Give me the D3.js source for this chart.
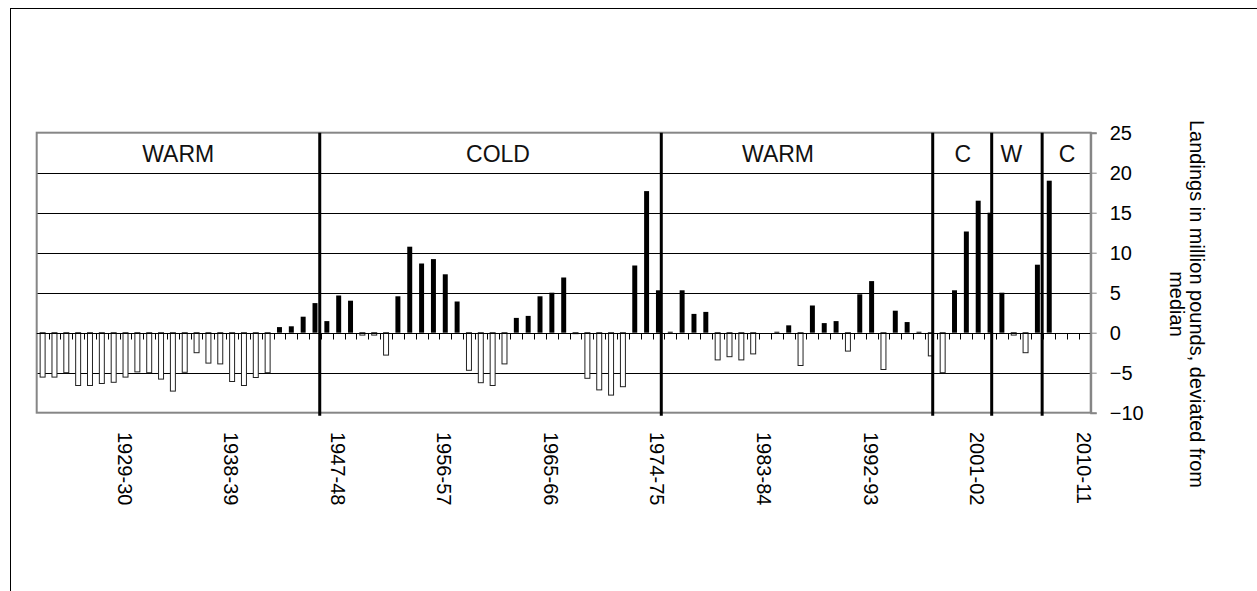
<!DOCTYPE html>
<html>
<head>
<meta charset="utf-8">
<script src="https://cdn.jsdelivr.net/npm/d3@7"></script>
<style>
  body { margin: 0; background: #fff; }
  svg { display: block; font-family: "Liberation Sans", Arial, sans-serif; }
</style>
</head>
<body>
<svg id="chart" width="1257" height="591"></svg>
<script>
// seasons 1922-23 .. 2010-11
const seasons = d3.range(1922, 2011).map(yr => `${yr}-${String((yr + 1) % 100).padStart(2, '0')}`);

// landings, million pounds deviated from median
const deviations = [
  -5.55, -5.55, -5.0, -6.6, -6.6, -6.35, -6.2, -5.55, -4.9, -5.0,
  -5.8, -7.3, -4.95, -2.5, -3.8, -3.9, -6.1, -6.6, -5.6, -5.0,
  0.7, 0.8, 2.0, 3.7, 1.45, 4.65, 4.0, -0.3, -0.3, -2.8,
  4.55, 10.75, 8.65, 9.2, 7.3, 3.9, -4.7, -6.25, -6.6, -3.9,
  1.85, 2.1, 4.55, 5.0, 6.9, -0.12, -5.7, -7.15, -7.8, -6.75,
  8.4, 17.7, 5.3, 0.12, 5.3, 2.35, 2.6, -3.4, -3.0, -3.4,
  -2.65, 0, 0.12, 0.92, -4.1, 3.4, 1.2, 1.45, -2.3, 4.8,
  6.45, -4.6, 2.75, 1.33, 0.12, -2.9, -5.0, 5.3, 12.65, 16.5,
  15.0, 5.0, -0.3, -2.5, 8.5, 19.0, 0, 0, 0
];

const tickLabels = ['1929-30', '1938-39', '1947-48', '1956-57', '1965-66', '1974-75', '1983-84', '1992-93', '2001-02', '2010-11'];
const yTicks = [-10, -5, 0, 5, 10, 15, 20, 25];

// regimes, positions counted in seasons from the left edge
const regimeNames = ['WARM', 'COLD', 'WARM', 'C', 'W', 'C'];
const regimeBreaks = [23.9, 52.74, 75.66, 80.64, 84.9];
const regimeLabelAt = [11.95, 38.95, 62.6, 78.2, 82.3, 87.0];

const yTitle = ['Landings in million pounds, deviated from', 'median'];

const svg = d3.select('#chart');
const plotL = 36.7, plotR = 1090.7, plotT = 132.7, plotB = 412.7;

const x = d3.scaleBand().domain(seasons).range([plotL, plotR]).padding(0);
const pos = d3.scaleLinear().domain([0, seasons.length]).range([plotL, plotR]);
const y = d3.scaleLinear().domain([-10, 25]).range([plotB, plotT]);
const barW = x.bandwidth() * 0.42;

// chart area frame
svg.append('rect')
  .attr('x', 10.5).attr('y', 8.5).attr('width', 1400).attr('height', 800)
  .attr('fill', 'none').attr('stroke', '#000').attr('stroke-width', 1);

// gridlines
svg.append('g')
  .selectAll('line')
  .data(yTicks.filter(t => t !== 0 && t !== -10 && t !== 25))
  .join('line')
  .attr('x1', plotL).attr('x2', plotR)
  .attr('y1', d => Math.round(y(d)) + 0.5).attr('y2', d => Math.round(y(d)) + 0.5)
  .attr('stroke', '#000').attr('stroke-width', 1);

// plot border
svg.append('rect')
  .attr('x', plotL).attr('y', plotT).attr('width', plotR - plotL).attr('height', plotB - plotT)
  .attr('fill', 'none').attr('stroke', '#868686').attr('stroke-width', 2);

// bars
svg.append('g')
  .selectAll('rect')
  .data(seasons.map((s, i) => ({ s, v: deviations[i] })).filter(d => d.v !== 0))
  .join('rect')
  .attr('x', d => x(d.s) + (x.bandwidth() - barW) / 2)
  .attr('width', barW)
  .attr('y', d => y(Math.max(0, d.v)))
  .attr('height', d => Math.abs(y(d.v) - y(0)))
  .attr('fill', d => d.v > 0 ? '#000' : '#fff')
  .attr('stroke', d => d.v > 0 ? 'none' : '#222')
  .attr('stroke-width', 1);

// category axis along zero
const y0 = Math.round(y(0)) + 0.5;
svg.append('line')
  .attr('x1', plotL).attr('x2', plotR).attr('y1', y0).attr('y2', y0)
  .attr('stroke', '#000').attr('stroke-width', 1);
svg.append('g')
  .selectAll('line')
  .data(d3.range(1, seasons.length))
  .join('line')
  .attr('x1', d => Math.round(pos(d)) + 0.5).attr('x2', d => Math.round(pos(d)) + 0.5)
  .attr('y1', y0).attr('y2', y0 + 6)
  .attr('stroke', '#000').attr('stroke-width', 1);

// regime boundaries
svg.append('g')
  .selectAll('line')
  .data(regimeBreaks)
  .join('line')
  .attr('x1', d => pos(d)).attr('x2', d => pos(d))
  .attr('y1', plotT).attr('y2', plotB + 3)
  .attr('stroke', '#000').attr('stroke-width', 3);

svg.append('g')
  .selectAll('text')
  .data(regimeNames)
  .join('text')
  .attr('x', (d, i) => pos(regimeLabelAt[i]))
  .attr('y', (y(25) + y(20)) / 2 + 1)
  .attr('text-anchor', 'middle')
  .attr('dominant-baseline', 'central')
  .attr('font-size', 23)
  .attr('fill', '#111')
  .text(d => d);

// value axis on the right
const yAxis = svg.append('g')
  .attr('transform', `translate(${plotR},0)`)
  .call(d3.axisRight(y).tickValues(yTicks).tickSize(6).tickPadding(13).tickFormat(d3.format('d')));
yAxis.select('.domain').attr('stroke', '#868686').attr('stroke-width', 2);
yAxis.selectAll('.tick line').attr('stroke', '#868686');
yAxis.selectAll('.tick text')
  .attr('font-size', 20)
  .attr('font-family', '"Liberation Sans", Arial, sans-serif')
  .attr('fill', '#000')
  .attr('dy', '0.34em');

// season labels
svg.append('g')
  .selectAll('text')
  .data(tickLabels)
  .join('text')
  .attr('transform', d => `translate(${x(d) + x.bandwidth() / 2 - 1},432) rotate(90)`)
  .attr('text-anchor', 'start')
  .attr('dominant-baseline', 'central')
  .attr('font-size', 20)
  .attr('fill', '#000')
  .text(d => d);

// axis title
svg.append('text')
  .attr('transform', 'translate(1197,304) rotate(90)')
  .attr('text-anchor', 'middle')
  .attr('font-size', 20)
  .attr('fill', '#000')
  .selectAll('tspan')
  .data(yTitle)
  .join('tspan')
  .attr('x', 0)
  .attr('dy', (d, i) => i === 0 ? '0.35em' : '1.0em')
  .text(d => d);
</script>
</body>
</html>
